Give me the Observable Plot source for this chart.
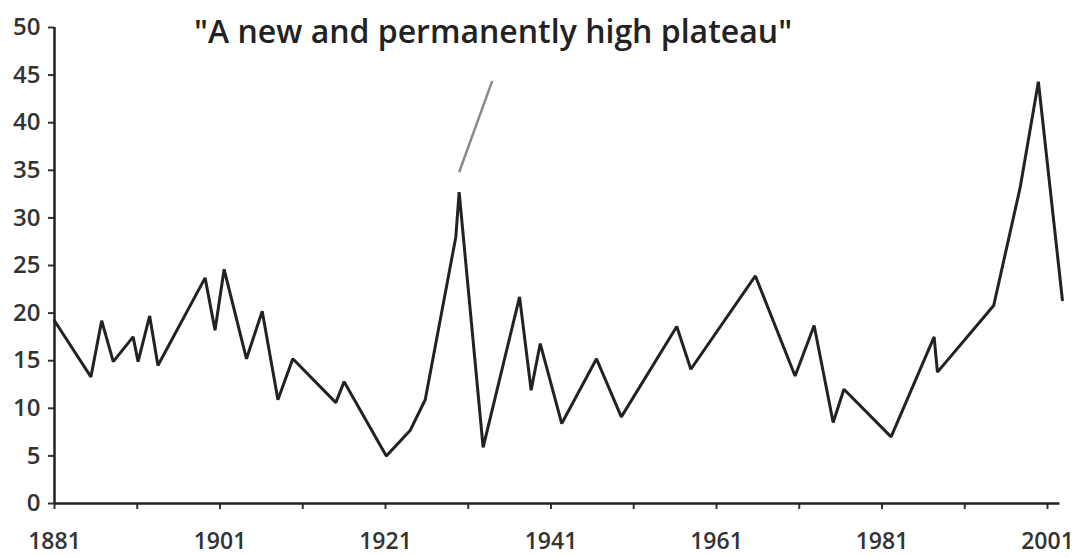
<!DOCTYPE html>
<html>
<head>
<meta charset="utf-8">
<script src="https://cdn.jsdelivr.net/npm/d3@7"></script>
<script src="https://cdn.jsdelivr.net/npm/@observablehq/plot@0.6"></script>
<style>
  html, body { margin: 0; padding: 0; background: #ffffff; }
  #chart svg { display: block; }
</style>
</head>
<body>
<div id="chart"></div>
<script>
// Series: year and value
const years = [1881, 1885.4, 1886.7, 1888.1, 1890.5, 1891.1, 1892.5, 1893.5, 1899.2, 1900.4,
  1901.5, 1904.2, 1906.1, 1908.0, 1909.8, 1915.0, 1916.0, 1921.1, 1924.0, 1925.8,
  1929.5, 1929.9, 1932.8, 1937.2, 1938.6, 1939.7, 1942.3, 1946.5, 1949.5, 1956.2,
  1957.9, 1965.7, 1970.5, 1972.8, 1975.1, 1976.4, 1982.1, 1987.3, 1987.7, 1994.5,
  1997.7, 1999.9, 2002.8];
const values = [19.2, 13.3, 19.2, 14.9, 17.5, 14.9, 19.7, 14.5, 23.7, 18.2,
  24.6, 15.2, 20.2, 10.9, 15.2, 10.6, 12.8, 5.0, 7.7, 10.9,
  28.0, 32.7, 5.9, 21.7, 11.9, 16.8, 8.4, 15.2, 9.1, 18.6,
  14.1, 23.9, 13.4, 18.7, 8.5, 12.0, 7.0, 17.5, 13.8, 20.8,
  33.2, 44.3, 21.4];

// Axis ticks
const xTickYears = [1881, 1891, 1901, 1911, 1921, 1931, 1941, 1951, 1961, 1971, 1981, 1991, 2001];
const xLabelYears = [1881, 1901, 1921, 1941, 1961, 1981, 2001];
const yTicks = [0, 5, 10, 15, 20, 25, 30, 35, 40, 45, 50];
const xDomain = [1881, 2002.5];
const yDomain = [0, 50];

// Annotation
const annotationText = ["\"A new and permanently high plateau\""];
const annotationTextPos = {year: 1934.0, value: 49.4};
const annotationLeader = {year1: 1929.9, value1: 34.8, year2: 1933.9, value2: 44.4};

const data = years.map((y, i) => ({year: y, value: values[i]}));

const FONT = "'Open Sans', 'Noto Sans', sans-serif";

const chart = Plot.plot({
  width: 1080,
  height: 557,
  marginLeft: 54,
  marginRight: 20.6,
  marginTop: 27,
  marginBottom: 54,
  style: {fontFamily: FONT, background: "#ffffff", color: "#333"},
  x: {domain: xDomain},
  y: {domain: yDomain},
  marks: [
    Plot.axisX({
      ticks: xTickYears,
      tickFormat: d => xLabelYears.includes(d) ? String(d) : "",
      tickSize: 6,
      tickPadding: 23,
      stroke: "#333",
      strokeWidth: 2,
      fontSize: 23,
      fontWeight: 600,
      fill: "#333",
      label: null
    }),
    Plot.axisY({
      ticks: yTicks,
      tickFormat: d => String(d),
      tickSize: 6,
      tickPadding: 8,
      stroke: "#333",
      strokeWidth: 2,
      fontSize: 24,
      fontWeight: 600,
      fill: "#333",
      label: null
    }),
    Plot.ruleX([xDomain[0]], {stroke: "#222", strokeWidth: 2.5}),
    Plot.ruleY([0], {stroke: "#222", strokeWidth: 2.5}),
    Plot.line(data, {x: "year", y: "value", stroke: "#222", strokeWidth: 3, strokeLinejoin: "miter", clip: false}),
    Plot.link([annotationLeader], {x1: "year1", y1: "value1", x2: "year2", y2: "value2", stroke: "#8a8a8a", strokeWidth: 2.5}),
    Plot.text(annotationText, {
      x: () => annotationTextPos.year, y: () => annotationTextPos.value,
      text: d => d, fontSize: 32, fontWeight: 600, fill: "#222", textAnchor: "middle"
    })
  ]
});

document.getElementById("chart").appendChild(chart);
</script>
</body>
</html>
